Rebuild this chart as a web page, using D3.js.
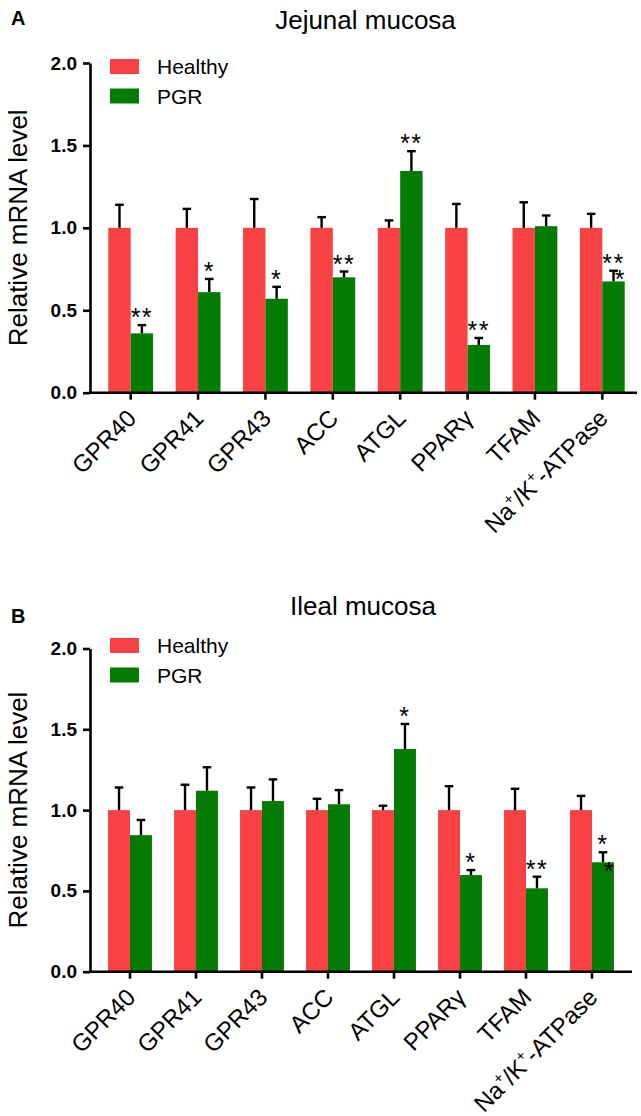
<!DOCTYPE html>
<html lang="en">
  <head>
    <meta charset="UTF-8" />
    <script src="https://d3js.org/d3.v7.min.js"></script>
    <title>Relative mRNA level</title>
    <style>
      body { margin: 0; background: #fff; }
      text { font-family: 'Liberation Sans', Arial, sans-serif; fill: #000; }
    </style>
  </head>
  <body>
    <div id="chart"></div>
    <script>
      // categories and groups
      const genes = ['GPR40', 'GPR41', 'GPR43', 'ACC', 'ATGL', 'PPARγ', 'TFAM', 'Na+/K+-ATPase']
      const groups = ['Healthy', 'PGR']
      const yTicks = [0, 0.5, 1.0, 1.5, 2.0]

      // A: jejunal mucosa
      const jejunalHealthy = [1, 1, 1, 1, 1, 1, 1, 1]
      const jejunalHealthySem = [0.14, 0.115, 0.175, 0.065, 0.045, 0.145, 0.155, 0.085]
      const jejunalPgr = [0.36, 0.61, 0.57, 0.7, 1.345, 0.29, 1.01, 0.675]
      const jejunalPgrSem = [0.05, 0.08, 0.072, 0.035, 0.12, 0.042, 0.065, 0.065]
      const jejunalSig = ['**', '*', '*', '**', '**', '**', '', '**|*']

      // B: ileal mucosa
      const ilealHealthy = [1, 1, 1, 1, 1, 1, 1, 1]
      const ilealHealthySem = [0.14, 0.157, 0.14, 0.07, 0.027, 0.148, 0.132, 0.088]
      const ilealPgr = [0.845, 1.12, 1.056, 1.036, 1.378, 0.598, 0.516, 0.677]
      const ilealPgrSem = [0.094, 0.145, 0.134, 0.088, 0.155, 0.031, 0.072, 0.062]
      const ilealSig = ['', '', '', '', '*', '*', '**', '*|*']

      const colors = { Healthy: '#f84244', PGR: '#047c04' }

      const svg = d3
        .select('#chart')
        .append('svg')
        .attr('width', 641)
        .attr('height', 1116)

      function drawPanel(p) {
        const g = svg.append('g')

        const x = d3
          .scaleBand()
          .domain(genes)
          .range([p.x0, p.x1])
          .paddingInner(0.335)
          .paddingOuter(0.1675)
        const x1 = d3.scaleBand().domain(groups).range([0, x.bandwidth()])
        const y = d3.scaleLinear().domain([0, 2]).range([p.yBottom, p.yTop])

        const rows = genes.map((gene, i) => ({
          gene,
          values: [
            { group: 'Healthy', mean: p.healthy[i], sem: p.healthySem[i] },
            { group: 'PGR', mean: p.pgr[i], sem: p.pgrSem[i] }
          ],
          sig: p.sig[i]
        }))

        // bars
        const groupsG = g
          .selectAll('.gene')
          .data(rows)
          .join('g')
          .attr('transform', d => `translate(${x(d.gene)},0)`)

        groupsG
          .selectAll('rect')
          .data(d => d.values)
          .join('rect')
          .attr('x', d => x1(d.group))
          .attr('width', x1.bandwidth())
          .attr('y', d => y(d.mean))
          .attr('height', d => y(0) - y(d.mean))
          .attr('fill', d => colors[d.group])

        // error bars (upper only)
        const err = groupsG
          .selectAll('.err')
          .data(d => d.values)
          .join('g')
          .attr('class', 'err')
          .attr('stroke', '#000')
          .attr('stroke-width', 2.4)
        err
          .append('line')
          .attr('x1', d => x1(d.group) + x1.bandwidth() / 2)
          .attr('x2', d => x1(d.group) + x1.bandwidth() / 2)
          .attr('y1', d => y(d.mean))
          .attr('y2', d => y(d.mean + d.sem))
        err
          .append('line')
          .attr('x1', d => x1(d.group) + x1.bandwidth() / 2 - 4.3)
          .attr('x2', d => x1(d.group) + x1.bandwidth() / 2 + 4.3)
          .attr('y1', d => y(d.mean + d.sem))
          .attr('y2', d => y(d.mean + d.sem))

        // significance stars above PGR bars
        groupsG.each(function (d) {
          if (!d.sig) return
          const pgr = d.values[1]
          const cx = x1('PGR') + x1.bandwidth() / 2
          const capY = y(pgr.mean + pgr.sem)
          const parts = d.sig.split('|')
          const sel = d3.select(this)
          sel
            .append('text')
            .attr('x', cx)
            .attr('y', capY + 1)
            .attr('text-anchor', 'middle')
            .attr('font-size', 25)
            .attr('letter-spacing', 1.5)
            .text(parts[0])
          if (parts[1]) {
            sel
              .append('text')
              .attr('x', cx + 6)
              .attr('y', capY + 1 + p.secondGap)
              .attr('text-anchor', 'middle')
              .attr('font-size', 25)
              .text(parts[1])
          }
        })

        // y axis
        const yAxis = g
          .append('g')
          .attr('transform', `translate(${p.axisX},0)`)
          .call(
            d3
              .axisLeft(y)
              .tickValues(yTicks)
              .tickFormat(d3.format('.1f'))
              .tickSize(7)
              .tickSizeOuter(0)
              .tickPadding(6)
          )
        yAxis.select('.domain').attr('stroke-width', 2.6)
        yAxis.selectAll('.tick line').attr('stroke-width', 2.6)
        yAxis
          .selectAll('.tick text')
          .attr('font-size', 19)
          .attr('font-weight', 'bold')
          .attr('font-family', "'Liberation Sans', Arial, sans-serif")

        // x axis
        const xAxis = g
          .append('g')
          .attr('transform', `translate(0,${p.yBottom})`)
          .call(d3.axisBottom(x).tickSize(7).tickSizeOuter(0).tickFormat(''))
        xAxis
          .select('.domain')
          .attr('d', `M${p.axisX - 1.3},0H${p.axisEnd}`)
          .attr('stroke-width', 2.6)
        xAxis.selectAll('.tick line').attr('stroke-width', 2.6)

        // rotated category labels
        const labels = g
          .selectAll('.xlabel')
          .data(genes)
          .join('text')
          .attr('class', 'xlabel')
          .attr('text-anchor', 'end')
          .attr('font-size', 24)
          .attr(
            'transform',
            d => `translate(${x(d) + x.bandwidth() / 2 + 7},${p.yBottom + 27}) rotate(-45)`
          )
        labels.each(function (d) {
          const t = d3.select(this)
          const pieces = d.split('+')
          pieces.forEach((piece, i) => {
            if (i > 0) {
              t.append('tspan').attr('dy', -10).attr('font-size', 15).text('+')
              t.append('tspan').attr('dy', 10).text(piece)
            } else {
              t.append('tspan').text(piece)
            }
          })
        })

        // y axis title
        g.append('text')
          .attr('transform', `translate(27,${(p.yTop + p.yBottom) / 2}) rotate(-90)`)
          .attr('text-anchor', 'middle')
          .attr('font-size', 26)
          .text('Relative mRNA level')

        // panel title and letter
        g.append('text')
          .attr('x', (p.axisX + p.axisEnd) / 2 + 2)
          .attr('y', p.titleY)
          .attr('text-anchor', 'middle')
          .attr('font-size', 26)
          .text(p.title)
        g.append('text')
          .attr('x', 11)
          .attr('y', p.letterY)
          .attr('font-size', 20)
          .attr('font-weight', 'bold')
          .text(p.letter)

        // legend
        const legend = g
          .selectAll('.legend')
          .data(groups)
          .join('g')
          .attr('transform', (d, i) => `translate(110,${p.legendY + i * 29.5})`)
        legend
          .append('rect')
          .attr('width', 29)
          .attr('height', 15)
          .attr('fill', d => colors[d])
        legend
          .append('text')
          .attr('x', 47)
          .attr('y', 15)
          .attr('font-size', 21)
          .text(d => d)
      }

      drawPanel({
        letter: 'A',
        title: 'Jejunal mucosa',
        healthy: jejunalHealthy,
        healthySem: jejunalHealthySem,
        pgr: jejunalPgr,
        pgrSem: jejunalPgrSem,
        sig: jejunalSig,
        axisX: 90,
        axisEnd: 637,
        x0: 97,
        x1: 636,
        yTop: 63,
        yBottom: 392.7,
        titleY: 29,
        letterY: 25,
        legendY: 59,
        secondGap: 16
      })

      drawPanel({
        letter: 'B',
        title: 'Ileal mucosa',
        healthy: ilealHealthy,
        healthySem: ilealHealthySem,
        pgr: ilealPgr,
        pgrSem: ilealPgrSem,
        sig: ilealSig,
        axisX: 90,
        axisEnd: 632,
        x0: 97,
        x1: 625,
        yTop: 648.5,
        yBottom: 971.7,
        titleY: 615,
        letterY: 623,
        legendY: 638,
        secondGap: 27
      })
    </script>
  </body>
</html>
